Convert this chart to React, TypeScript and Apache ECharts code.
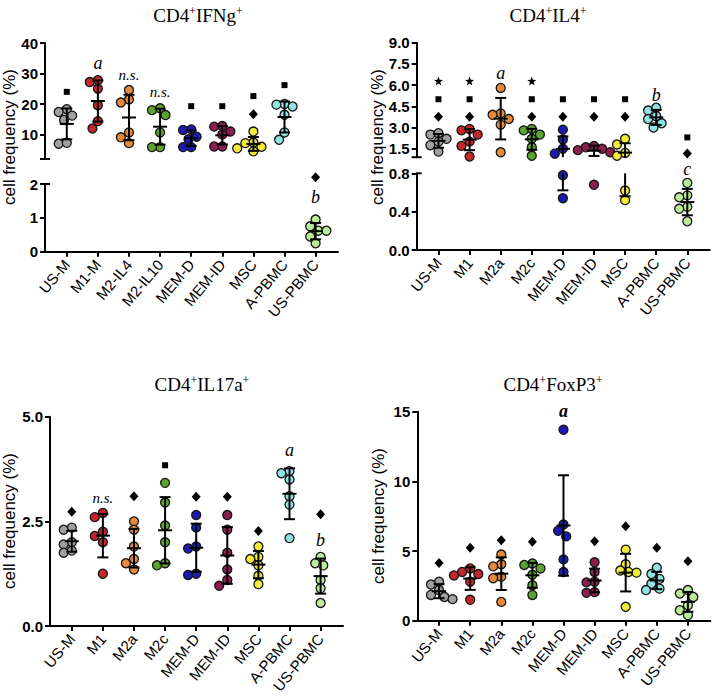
import React, { useEffect, useRef } from "react";
import * as echarts from "echarts";

const catsA = ["US-M", "M1-M", "M2-IL4", "M2-IL10", "MEM-D", "MEM-ID", "MSC", "A-PBMC", "US-PBMC"];
const catsB = ["US-M", "M1", "M2a", "M2c", "MEM-D", "MEM-ID", "MSC", "A-PBMC", "US-PBMC"];

// CD4+IFNg+
const ifngValues = [
  [18.3, 17.4, 16.2, 14.8, 7.0, 7.3],
  [27.8, 27.2, 25.0, 19.6, 14.4, 12.0],
  [24.6, 21.5, 20.5, 10.7, 9.1, 7.2],
  [18.6, 18.0, 16.4, 10.7, 5.9, 5.9],
  [11.7, 11.5, 9.3, 8.5, 5.9, 5.9],
  [12.8, 12.6, 11.0, 10.0, 6.1, 6.1],
  [11.0, 7.4, 7.2, 6.0, 5.5, 4.5],
  [20.0, 19.8, 19.2, 16.5, 10.7, 8.3],
  [0.95, 0.75, 0.62, 0.62, 0.45, 0.25],
];
const ifngSquares = [24.0, null, null, null, 19.3, 19.3, 22.6, 26.2, null];
const ifngDiamonds = [null, null, null, null, null, null, 16.7, null, 2.2];
const ifngStars = [null, null, null, null, null, null, null, null, null];
const ifngLetters = ["", "a", "n.s.", "n.s.", "", "", "", "", "b"];
const ifngLetterY = [null, 33.3, 29.5, 24.0, null, null, null, null, 1.63];

// CD4+IL4+
const il4Values = [
  [2.6, 2.5, 2.2, 2.0, 1.75, 1.3],
  [2.9, 2.8, 2.5, 2.0, 1.7, 0.95],
  [5.8, 4.0, 3.9, 3.6, 3.2, 1.25],
  [2.9, 2.8, 2.5, 2.2, 1.6, 1.0],
  [2.85, 2.15, 1.5, 1.15, 0.78, 0.54],
  [1.7, 1.6, 1.5, 1.4, 1.25, 0.68],
  [2.2, 1.8, 1.2, 1.0, 0.62, 0.52],
  [4.4, 4.2, 3.8, 3.6, 3.3, 3.0],
  [0.7, 0.57, 0.55, 0.45, 0.43, 0.3],
];
const il4Squares = [5.0, 5.0, null, 5.0, 5.0, 5.0, 5.0, null, 2.3];
const il4Diamonds = [3.76, 3.76, null, 3.76, 3.76, 3.76, 3.76, null, 1.17];
const il4Stars = [6.29, 6.29, null, 6.29, null, null, null, null, null];
const il4Letters = ["", "", "a", "", "", "", "", "b", "c"];
const il4LetterY = [null, null, 6.88, null, null, null, null, 5.3, 0.84];

// CD4+IL17a+
const il17Values = [
  [2.35, 2.3, 2.0, 1.95, 1.8, 1.75],
  [2.7, 2.6, 2.25, 2.15, 2.0, 1.25],
  [2.5, 2.3, 1.9, 1.6, 1.5, 1.35],
  [3.42, 2.95, 2.4, 2.0, 1.5, 1.45],
  [2.65, 2.35, 1.9, 1.85, 1.25, 1.22],
  [2.65, 2.3, 1.75, 1.35, 1.1, 0.96],
  [1.9, 1.65, 1.6, 1.45, 1.2, 1.0],
  [3.7, 3.65, 3.5, 3.1, 2.9, 2.1],
  [1.65, 1.5, 1.45, 1.1, 0.9, 0.55],
];
const il17Squares = [null, null, null, 3.84, null, null, null, null, null];
const il17Diamonds = [2.73, null, 3.1, null, 3.09, 3.09, 2.27, null, 2.67];
const il17Stars = [null, null, null, null, null, null, null, null, null];
const il17Letters = ["", "n.s.", "", "", "", "", "", "a", "b"];
const il17LetterY = [null, 3.05, null, null, null, null, null, 4.2, 2.05];

// CD4+FoxP3+
const foxValues = [
  [2.8, 2.6, 2.2, 1.85, 1.7, 1.55],
  [3.75, 3.5, 3.35, 3.25, 2.8, 1.5],
  [4.75, 4.05, 3.9, 3.15, 3.05, 1.35],
  [4.1, 4.0, 3.75, 3.3, 2.55, 1.85],
  [13.7, 6.9, 6.45, 6.05, 4.4, 3.5],
  [4.2, 3.5, 2.8, 2.75, 2.05, 2.0],
  [5.1, 4.05, 3.6, 3.5, 3.45, 1.0],
  [3.8, 3.35, 3.0, 2.65, 2.3, 2.2],
  [2.2, 1.95, 1.7, 1.1, 0.75, 0.4],
];
const foxSquares = [null, null, null, null, null, null, null, null, null];
const foxDiamonds = [4.15, 5.23, 5.78, 5.66, null, 5.7, 6.78, 5.23, 4.27];
const foxStars = [null, null, null, null, null, null, null, null, null];
const foxLetters = ["", "", "", "", "a", "", "", "", ""];
const foxLetterY = [null, null, null, null, 15.08, null, null, null, null];

const groupColors = ["#a0a0a0", "#c4262c", "#e2893c", "#5ba52f", "#1c1cb4", "#8e1d50", "#f4ec3a", "#92e4e4", "#bcec98"];

const FONT_SANS = "'Liberation Sans', Arial, Helvetica, sans-serif";
const FONT_SERIF = "'Liberation Serif', 'Times New Roman', serif";
const STAR = "path://M0,-10L2.35,-3.24L9.51,-3.09L3.8,1.24L5.88,8.09L0,4L-5.88,8.09L-3.8,1.24L-9.51,-3.09L-2.35,-3.24Z";

const W = 293;
const X_MIN = -0.7;
const X_MAX = 8.72;
const PX_PER_X = W / (X_MAX - X_MIN);
const DOT = 9;

type Seg = { min: number; max: number; top: number; bottom: number; ticks: number[]; dec: number };
type Panel = {
  left: number;
  title: string;
  titleX: number;
  titleY: number;
  ylabX: number;
  ylabY: number;
  cats: string[];
  values: number[][];
  squares: (number | null)[];
  diamonds: (number | null)[];
  stars: (number | null)[];
  letters: string[];
  letterY: (number | null)[];
  letterBold: boolean;
  segs: Seg[];
};

const panels: Panel[] = [
  {
    left: 45, title: "CD4{s|+}IFNg{s|+}", titleX: 198, titleY: 15, ylabX: 9, ylabY: 137,
    cats: catsA, values: ifngValues, squares: ifngSquares, diamonds: ifngDiamonds, stars: ifngStars,
    letters: ifngLetters, letterY: ifngLetterY, letterBold: false,
    segs: [
      { min: 2, max: 40, top: 43, bottom: 159, ticks: [10, 20, 30, 40], dec: 0 },
      { min: 0, max: 2, top: 184, bottom: 251.7, ticks: [0, 1, 2], dec: 0 },
    ],
  },
  {
    left: 416.7, title: "CD4{s|+}IL4{s|+}", titleX: 548, titleY: 15, ylabX: 377, ylabY: 137,
    cats: catsB, values: il4Values, squares: il4Squares, diamonds: il4Diamonds, stars: il4Stars,
    letters: il4Letters, letterY: il4LetterY, letterBold: false,
    segs: [
      { min: 0.9, max: 9, top: 42.7, bottom: 157.2, ticks: [1.5, 3, 4.5, 6, 7.5, 9], dec: 1 },
      { min: 0, max: 0.8, top: 173.3, bottom: 250, ticks: [0, 0.4, 0.8], dec: 1 },
    ],
  },
  {
    left: 50, title: "CD4{s|+}IL17a{s|+}", titleX: 202, titleY: 384, ylabX: 9, ylabY: 521,
    cats: catsB, values: il17Values, squares: il17Squares, diamonds: il17Diamonds, stars: il17Stars,
    letters: il17Letters, letterY: il17LetterY, letterBold: false,
    segs: [{ min: 0, max: 5, top: 416.7, bottom: 626, ticks: [0, 2.5, 5], dec: 1 }],
  },
  {
    left: 417.3, title: "CD4{s|+}FoxP3{s|+}", titleX: 553, titleY: 384, ylabX: 378, ylabY: 516,
    cats: catsB, values: foxValues, squares: foxSquares, diamonds: foxDiamonds, stars: foxStars,
    letters: foxLetters, letterY: foxLetterY, letterBold: true,
    segs: [{ min: 0, max: 15, top: 411.7, bottom: 620.7, ticks: [0, 5, 10, 15], dec: 0 }],
  },
];

function segOfPoint(p: Panel, v: number): number {
  for (let k = p.segs.length - 1; k > 0; k--) if (v <= p.segs[k].max) return k;
  return 0;
}
function segOfMark(p: Panel, v: number): number {
  for (let k = p.segs.length - 1; k > 0; k--) {
    const s = p.segs[k];
    if (v <= s.max + 0.25 * (s.max - s.min)) return k;
  }
  return 0;
}
function toPx(p: Panel, v: number): number {
  const s = p.segs[segOfPoint(p, v)];
  return s.bottom - ((v - s.min) / (s.max - s.min)) * (s.bottom - s.top);
}
function swarm(p: Panel, vals: number[]): number[] {
  const order = vals.map((_, i) => i).sort((a, b) => vals[b] - vals[a]);
  const placed: { x: number; y: number }[] = [];
  const offs = new Array(vals.length).fill(0);
  const steps = [0];
  for (let k = 1; k <= 10; k++) steps.push(-k * DOT * 0.3, k * DOT * 0.3);
  for (const i of order) {
    const y = toPx(p, vals[i]);
    for (const s of steps) {
      if (placed.every((q) => Math.hypot(q.x - s, q.y - y) >= DOT * 0.9)) {
        offs[i] = s / PX_PER_X;
        placed.push({ x: s, y });
        break;
      }
    }
  }
  return offs;
}
function stats(vals: number[]) {
  const n = vals.length;
  const m = vals.reduce((a, b) => a + b, 0) / n;
  const sd = Math.sqrt(vals.reduce((a, b) => a + (b - m) * (b - m), 0) / (n - 1));
  return { m, lo: m - sd, hi: m + sd };
}

function buildOption() {
  const grid: any[] = [];
  const xAxis: any[] = [];
  const yAxis: any[] = [];
  const series: any[] = [];
  const graphic: any[] = [];
  const black = "#000";
  const cats9 = [0, 1, 2, 3, 4, 5, 6, 7, 8];

  panels.forEach((p) => {
    const jit = p.values.map((vals) => swarm(p, vals));
    const st = p.values.map((vals) => stats(vals));
    p.segs.forEach((s, si) => {
      const g = grid.length;
      const isLast = si === p.segs.length - 1;
      grid.push({ left: p.left, top: s.top, width: W, height: s.bottom - s.top, containLabel: false, outerBoundsMode: "none" });
      xAxis.push({
        type: "value", gridIndex: g, min: X_MIN, max: X_MAX, show: isLast,
        axisLine: { show: true, onZero: false, lineStyle: { color: black, width: 2 } },
        axisTick: { show: true, customValues: cats9, length: 5, lineStyle: { color: black, width: 2 } },
        axisLabel: {
          show: true, customValues: cats9, formatter: (v: number) => p.cats[Math.round(v)] || "",
          rotate: 50, fontSize: 15, color: black, fontFamily: FONT_SANS, margin: 10,
        },
        splitLine: { show: false },
      });
      yAxis.push({
        type: "value", gridIndex: g, min: s.min, max: s.max,
        axisLine: { show: true, onZero: false, lineStyle: { color: black, width: 2 } },
        axisTick: { show: true, customValues: s.ticks, length: 5, lineStyle: { color: black, width: 2 } },
        axisLabel: {
          show: true, customValues: s.ticks, formatter: (v: number) => v.toFixed(s.dec),
          fontSize: 15, fontWeight: "bold", color: black, fontFamily: FONT_SANS, margin: 7,
        },
        splitLine: { show: false },
      });

      // points
      const pts: any[] = [];
      p.values.forEach((vals, i) =>
        vals.forEach((v, j) => {
          if (segOfPoint(p, v) === si) pts.push({ value: [i + jit[i][j], v], itemStyle: { color: groupColors[i] } });
        })
      );
      series.push({
        type: "scatter", xAxisIndex: g, yAxisIndex: g, data: pts, symbol: "circle", symbolSize: DOT,
        itemStyle: { borderColor: "#151515", borderWidth: 1.3, opacity: 1 }, clip: false, z: 2, silent: true,
      });

      // error bars (mean ± SD)
      series.push({
        type: "custom", xAxisIndex: g, yAxisIndex: g, clip: false, z: 3, silent: true,
        data: st.map((q, i) => [i, q.m, q.lo, q.hi]),
        renderItem: (_params: any, api: any) => {
          const i = api.value(0), m = api.value(1), lo = api.value(2), hi = api.value(3);
          const a = Math.max(lo, s.min), b = Math.min(hi, s.max);
          const style = { stroke: black, lineWidth: 2 };
          const children: any[] = [];
          if (b > a) {
            const p1 = api.coord([i, a]), p2 = api.coord([i, b]);
            children.push({ type: "line", shape: { x1: p1[0], y1: p1[1], x2: p2[0], y2: p2[1] }, style });
          }
          const hl = (v: number, half: number) => {
            if (v >= s.min && v <= s.max) {
              const c = api.coord([i, v]);
              children.push({ type: "line", shape: { x1: c[0] - half, y1: c[1], x2: c[0] + half, y2: c[1] }, style });
            }
          };
          hl(m, 7);
          hl(lo, 5.5);
          hl(hi, 5.5);
          return { type: "group", children };
        },
      });

      // significance markers
      const markSeries = (arr: (number | null)[], symbol: string, size: any) => {
        const d: any[] = [];
        arr.forEach((v, i) => {
          if (v != null && segOfMark(p, v) === si) d.push([i, v]);
        });
        if (d.length)
          series.push({
            type: "scatter", xAxisIndex: g, yAxisIndex: g, data: d, symbol, symbolSize: size,
            itemStyle: { color: black, opacity: 1 }, clip: false, z: 4, silent: true,
          });
      };
      markSeries(p.squares, "rect", 6);
      markSeries(p.diamonds, "diamond", [9, 10]);
      markSeries(p.stars, STAR, 9);

      // letters
      const lets: any[] = [];
      p.letters.forEach((t, i) => {
        const v = p.letterY[i];
        if (t && v != null && segOfMark(p, v) === si) lets.push({ value: [i, v], t });
      });
      if (lets.length)
        series.push({
          type: "custom", xAxisIndex: g, yAxisIndex: g, clip: false, z: 4, silent: true,
          data: lets.map((l) => l.value),
          renderItem: (params: any, api: any) => {
            const l = lets[params.dataIndex];
            const c = api.coord([api.value(0), api.value(1)]);
            return {
              type: "text", x: c[0], y: c[1],
              style: {
                text: l.t, fill: black, fontFamily: FONT_SERIF, fontStyle: "italic",
                fontWeight: p.letterBold ? "bold" : "normal", fontSize: l.t === "n.s." ? 15 : 18,
                align: "center", verticalAlign: "middle",
              },
            };
          },
        });
    });

    // break marks
    if (p.segs.length > 1) {
      const up = p.segs[0], lowS = p.segs[1];
      graphic.push({ type: "line", shape: { x1: p.left - 5, y1: up.bottom, x2: p.left + 5, y2: up.bottom }, style: { stroke: black, lineWidth: 2 } });
      graphic.push({ type: "line", shape: { x1: p.left, y1: lowS.top, x2: p.left + 5, y2: lowS.top }, style: { stroke: black, lineWidth: 2 } });
    }
    // title
    graphic.push({
      type: "text", x: p.titleX, y: p.titleY,
      style: {
        text: p.title, fill: black, fontFamily: FONT_SERIF, fontSize: 19, align: "center", verticalAlign: "middle",
        rich: { s: { fontFamily: FONT_SERIF, fontSize: 12, fill: black, padding: [0, 0, 9, 0] } },
      },
    });
    // y label
    graphic.push({
      type: "text", x: p.ylabX, y: p.ylabY, rotation: Math.PI / 2,
      style: { text: "cell frequency (%)", fill: black, fontFamily: FONT_SANS, fontSize: 17, align: "center", verticalAlign: "middle" },
    });
  });

  return { animation: false, backgroundColor: "#fff", grid, xAxis, yAxis, series, graphic };
}

export default function App() {
  const ref = useRef<HTMLDivElement>(null);
  useEffect(() => {
    if (!ref.current) return;
    const chart = echarts.init(ref.current, undefined, { renderer: "svg" });
    chart.setOption(buildOption() as any);
    return () => chart.dispose();
  }, []);
  return <div ref={ref} style={{ position: "fixed", left: 0, top: 0, width: 713, height: 696, background: "#fff" }} />;
}
